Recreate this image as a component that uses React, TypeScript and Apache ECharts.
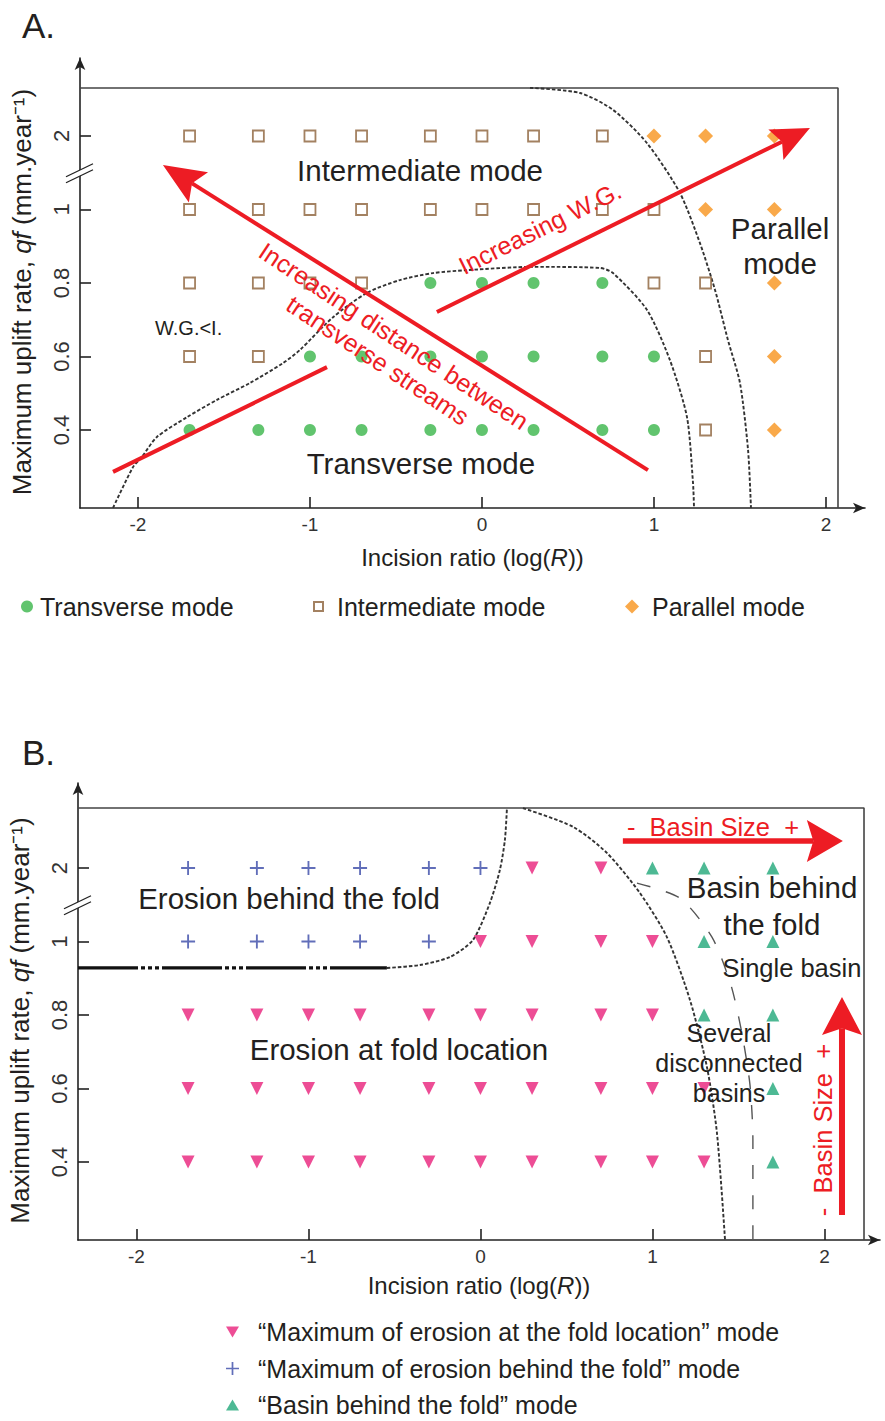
import React, { useEffect, useRef } from 'react';
import * as echarts from 'echarts';

const FONT = 'Arial, "Liberation Sans", Helvetica, sans-serif';
const TEXT = '#231f20';
const RED = '#ed1c24';
const AXIS = '#222222';

// ticks (qf = 2 is drawn at position 1.2 because of the axis break)
const xTicks = [-2, -1, 0, 1, 2];
const yTickPos = [0.4, 0.6, 0.8, 1.0, 1.2];
const yTickLabels = ['0.4', '0.6', '0.8', '1', '2'];
const yPos = (v: number) => (v === 2 ? 1.2 : v);

// ---------- Panel A : [log(R), qf]
const transverseA = [
  [-0.3, 0.8], [0, 0.8], [0.3, 0.8], [0.7, 0.8],
  [-1, 0.6], [-0.7, 0.6], [-0.3, 0.6], [0, 0.6], [0.3, 0.6], [0.7, 0.6], [1, 0.6],
  [-1.7, 0.4], [-1.3, 0.4], [-1, 0.4], [-0.7, 0.4], [-0.3, 0.4], [0, 0.4], [0.3, 0.4], [0.7, 0.4], [1, 0.4],
];
const intermediateA = [
  [-1.7, 2], [-1.3, 2], [-1, 2], [-0.7, 2], [-0.3, 2], [0, 2], [0.3, 2], [0.7, 2],
  [-1.7, 1], [-1.3, 1], [-1, 1], [-0.7, 1], [-0.3, 1], [0, 1], [0.3, 1], [0.7, 1], [1, 1],
  [-1.7, 0.8], [-1.3, 0.8], [-1, 0.8], [-0.7, 0.8], [1, 0.8], [1.3, 0.8],
  [-1.7, 0.6], [-1.3, 0.6], [1.3, 0.6],
  [1.3, 0.4],
];
const parallelA = [
  [1, 2], [1.3, 2], [1.7, 2], [1.3, 1], [1.7, 1], [1.7, 0.8], [1.7, 0.6], [1.7, 0.4],
];

// ---------- Panel B
const foldLocationB = [
  [0.3, 2], [0.7, 2],
  [0, 1], [0.3, 1], [0.7, 1], [1, 1],
  [-1.7, 0.8], [-1.3, 0.8], [-1, 0.8], [-0.7, 0.8], [-0.3, 0.8], [0, 0.8], [0.3, 0.8], [0.7, 0.8], [1, 0.8],
  [-1.7, 0.6], [-1.3, 0.6], [-1, 0.6], [-0.7, 0.6], [-0.3, 0.6], [0, 0.6], [0.3, 0.6], [0.7, 0.6], [1, 0.6], [1.3, 0.6],
  [-1.7, 0.4], [-1.3, 0.4], [-1, 0.4], [-0.7, 0.4], [-0.3, 0.4], [0, 0.4], [0.3, 0.4], [0.7, 0.4], [1, 0.4], [1.3, 0.4],
];
const behindFoldB = [
  [-1.7, 2], [-1.3, 2], [-1, 2], [-0.7, 2], [-0.3, 2], [0, 2],
  [-1.7, 1], [-1.3, 1], [-1, 1], [-0.7, 1], [-0.3, 1],
];
const basinB = [
  [1, 2], [1.3, 2], [1.7, 2], [1.3, 1], [1.7, 1], [1.3, 0.8], [1.7, 0.8], [1.7, 0.6], [1.7, 0.4],
];

// ---------- boundary curves [x, position on broken axis]
const curveA1 = [[-2.145, 0.188], [-2.029, 0.299], [-1.977, 0.327], [-1.89, 0.381], [-1.715, 0.435], [-1.541, 0.482], [-1.349, 0.528], [-1.157, 0.582], [-1.058, 0.618], [-0.866, 0.707], [-0.669, 0.773], [-0.477, 0.808], [-0.285, 0.827], [-0.087, 0.835], [0.297, 0.844], [0.686, 0.841], [0.762, 0.827], [0.959, 0.727], [1.093, 0.59], [1.192, 0.435], [1.227, 0.256], [1.233, 0.188]];
const curveA2 = [[0.279, 1.331], [0.57, 1.317], [0.762, 1.271], [0.959, 1.181], [1.151, 1.045], [1.267, 0.909], [1.355, 0.781], [1.43, 0.645], [1.5, 0.528], [1.547, 0.346], [1.564, 0.188]];
const curveB1Flat = [[-2.34, 0.928], [-0.544, 0.928]];
const curveB1 = [[-0.544, 0.928], [-0.352, 0.936], [-0.177, 0.958], [-0.044, 1.004], [0.055, 1.105], [0.113, 1.195], [0.142, 1.276], [0.154, 1.363]];
const curveB2 = [[0.247, 1.363], [0.538, 1.312], [0.735, 1.241], [0.927, 1.132], [1.084, 1.012], [1.218, 0.841], [1.317, 0.658], [1.375, 0.479], [1.422, 0.188]];
const curveB3 = [[0.91, 1.159], [1.16, 1.118], [1.346, 1.012], [1.456, 0.882], [1.52, 0.751], [1.567, 0.61], [1.584, 0.46], [1.584, 0.188]];

// frame (top + right edges)
const frameA = [[-2.337, 1.3306], [2.07, 1.3306], [2.07, 0.1878]];
const frameB = [[-2.34, 1.3633], [2.23, 1.3633], [2.23, 0.1878]];

const NAME_T = 'Transverse mode';
const NAME_I = 'Intermediate mode';
const NAME_P = 'Parallel mode';
const NAME_F = '\u201cMaximum of erosion at the fold location\u201d mode';
const NAME_BH = '\u201cMaximum of erosion behind the fold\u201d mode';
const NAME_BS = '\u201cBasin behind the fold\u201d mode';

const PLUS = 'path://M5.2,0H6.8V5.2H12V6.8H6.8V12H5.2V6.8H0V5.2H5.2Z';
const TRI_DOWN = 'path://M0,0L12,0L6,10Z';
const TRI_UP = 'path://M6,0L12,10L0,10Z';

function xAxisCfg(gi: number, min: number, max: number, nameGap: number) {
  return {
    type: 'value', gridIndex: gi, min, max,
    name: '{n|Incision ratio (log(}{i|R}{n|))}',
    nameLocation: 'middle', nameGap, nameMoveOverlap: false,
    nameTextStyle: {
      rich: {
        n: { fontSize: 24, fontFamily: FONT, color: TEXT },
        i: { fontSize: 24, fontFamily: FONT, color: TEXT, fontStyle: 'italic' },
      },
    },
    axisLine: { show: true, onZero: false, symbol: ['none', 'arrow'], symbolSize: [8, 12], lineStyle: { color: AXIS, width: 1.6 } },
    axisTick: { show: true, inside: true, length: 11, customValues: xTicks, lineStyle: { color: AXIS, width: 1.6 } },
    axisLabel: { show: true, customValues: xTicks, margin: 7, fontSize: 19, color: '#333', fontFamily: FONT },
    splitLine: { show: false },
  };
}

function yAxisCfg(gi: number, min: number, max: number) {
  return {
    type: 'value', gridIndex: gi, min, max,
    name: '{a|Maximum uplift rate, }{i|qf}{a| (mm.year\u207b\u00b9)}',
    nameLocation: 'middle', nameGap: 45, nameRotate: 90, nameMoveOverlap: false,
    nameTextStyle: {
      padding: [0, 18, 0, 0],
      rich: {
        a: { fontSize: 26, fontFamily: FONT, color: TEXT },
        i: { fontSize: 26, fontFamily: FONT, color: TEXT, fontStyle: 'italic' },
      },
    },
    axisLine: { show: true, onZero: false, symbol: ['none', 'arrow'], symbolSize: [8, 12], lineStyle: { color: AXIS, width: 1.6 } },
    axisTick: { show: true, inside: true, length: 11, customValues: yTickPos, lineStyle: { color: AXIS, width: 1.6 } },
    axisLabel: {
      show: true, customValues: yTickPos, rotate: 90, margin: 8, fontSize: 22, color: '#333', fontFamily: FONT,
      formatter: (v: number) => {
        const i = yTickPos.findIndex((p) => Math.abs(p - v) < 1e-6);
        return i >= 0 ? yTickLabels[i] : '';
      },
    },
    splitLine: { show: false },
  };
}

const sc = (name: string, data: number[][], gi: number, symbol: string, size: number, itemStyle: any) => ({
  type: 'scatter', name, xAxisIndex: gi, yAxisIndex: gi, symbol, symbolSize: size, itemStyle, z: 6,
  data: data.map(([x, y]) => [x, yPos(y)]),
});
const ln = (name: string, data: number[][], gi: number, lineStyle: any, smooth: number | boolean = 0.25) => ({
  type: 'line', name, xAxisIndex: gi, yAxisIndex: gi, data, showSymbol: false, symbol: 'none', smooth, lineStyle, silent: true, z: 3,
});

function buildOption() {
  const dash = { color: '#333333', width: 1.9, type: [3.5, 2] };
  const legendText = { fontSize: 25, fontFamily: FONT, color: TEXT };
  return {
    animation: false,
    backgroundColor: '#ffffff',
    grid: [
      { left: 80, top: 58, width: 785, height: 450, outerBoundsMode: 'none', containLabel: false },
      { left: 78, top: 783, width: 802, height: 457, outerBoundsMode: 'none', containLabel: false },
    ],
    xAxis: [xAxisCfg(0, -2.337, 2.227, 37), xAxisCfg(1, -2.34, 2.323, 33)],
    yAxis: [yAxisCfg(0, 0.1878, 1.4122), yAxisCfg(1, 0.1878, 1.4313)],
    legend: [
      { left: 21, top: 594, padding: 0, data: [NAME_T], itemWidth: 12, itemHeight: 12, selectedMode: false, textStyle: { ...legendText, padding: [0, 0, 0, 2] } },
      { left: 313, top: 594, padding: 0, data: [NAME_I], itemWidth: 9, itemHeight: 9, selectedMode: false, textStyle: { ...legendText, padding: [0, 0, 0, 9] } },
      { left: 625, top: 594, padding: 0, data: [NAME_P], itemWidth: 14, itemHeight: 14, selectedMode: false, textStyle: { ...legendText, padding: [0, 0, 0, 8] } },
      { left: 226, top: 1319, padding: 0, height: 102, orient: 'vertical', itemGap: 10.5, data: [NAME_F, NAME_BH, NAME_BS], itemWidth: 13, itemHeight: 13, selectedMode: false, textStyle: { ...legendText, lineHeight: 26, padding: [0, 0, 0, 14] } },
    ],
    series: [
      ln('frameA', frameA, 0, { color: '#444', width: 1.6 }, false),
      ln('curveA1', curveA1, 0, dash),
      ln('curveA2', curveA2, 0, dash),
      sc(NAME_T, transverseA, 0, 'circle', 12, { color: '#3ab54a' }),
      sc(NAME_I, intermediateA, 0, 'rect', 11, { color: '#ffffff', borderColor: '#8c6239', borderWidth: 1.8 }),
      sc(NAME_P, parallelA, 0, 'diamond', 15, { color: '#f7941d' }),

      ln('frameB', frameB, 1, { color: '#444', width: 1.6 }, false),
      ln('curveB1Flat', curveB1Flat, 1, { color: '#111', width: 3.2, type: [60, 3, 4, 3, 4, 3, 4, 3] }, false),
      ln('curveB1', curveB1, 1, dash),
      ln('curveB2', curveB2, 1, dash),
      ln('curveB3', curveB3, 1, { color: '#555', width: 1.4, type: [14, 16] }),
      sc(NAME_F, foldLocationB, 1, TRI_DOWN, 13, { color: '#e8207a' }),
      sc(NAME_BH, behindFoldB, 1, PLUS, 14, { color: '#3a4aa8' }),
      sc(NAME_BS, basinB, 1, TRI_UP, 13, { color: '#21a879' }),
    ],
  };
}

// annotation layout (data coordinates of each panel)
const textsA = [
  { t: 'Intermediate mode', x: -0.36, y: 1.105, size: 29.5, color: TEXT, rot: 0, lh: 32 },
  { t: 'Parallel\nmode', x: 1.733, y: 0.9, size: 29.5, color: TEXT, rot: 0, lh: 35 },
  { t: 'Transverse mode', x: -0.355, y: 0.31, size: 29.5, color: TEXT, rot: 0, lh: 32 },
  { t: 'Increasing W.G.', x: 0.337, y: 0.95, size: 25, color: RED, rot: 26.3, lh: 28 },
  { t: 'Increasing distance between', x: -0.512, y: 0.656, size: 25, color: RED, rot: -33.5, lh: 28 },
  { t: 'transverse streams', x: -0.605, y: 0.59, size: 25, color: RED, rot: -33.5, lh: 28 },
];
const textsB = [
  { t: 'Erosion behind the fold', x: -1.113, y: 1.116, size: 29.5, color: TEXT, rot: 0, lh: 32 },
  { t: 'Erosion at fold location', x: -0.474, y: 0.705, size: 29.5, color: TEXT, rot: 0, lh: 32 },
  { t: 'Basin behind\nthe fold', x: 1.695, y: 1.097, size: 29.5, color: TEXT, rot: 0, lh: 37 },
  { t: 'Single basin', x: 1.811, y: 0.928, size: 25.5, color: TEXT, rot: 0, lh: 28 },
  { t: 'Several\ndisconnected\nbasins', x: 1.445, y: 0.669, size: 25, color: TEXT, rot: 0, lh: 30 },
  { t: '-  Basin Size  +', x: 1.352, y: 1.312, size: 25.5, color: RED, rot: 0, lh: 28 },
  { t: '-  Basin Size  +', x: 1.991, y: 0.487, size: 25.5, color: RED, rot: 90, lh: 28 },
];
const arrowsA = [
  { from: [0.965, 0.291], to: [-1.855, 1.121], head: true, w: 4, L: 42, W: 18 },
  { from: [-2.145, 0.286], to: [-0.901, 0.571], head: false, w: 4, L: 0, W: 0 },
  { from: [-0.262, 0.721], to: [1.907, 1.222], head: true, w: 4, L: 38, W: 17 },
];
const arrowsB = [
  { from: [0.828, 1.2735], to: [2.107, 1.2735], head: true, w: 5.5, L: 36, W: 21 },
  { from: [2.102, 0.256], to: [2.102, 0.849], head: true, w: 6, L: 38, W: 20 },
];
const breakPos = 1.1;

export default function App() {
  const ref = useRef<HTMLDivElement>(null);
  useEffect(() => {
    document.body.style.margin = '0';
    const chart = echarts.init(ref.current as HTMLDivElement, null, { renderer: 'svg' });
    chart.setOption(buildOption() as any);
    const P = (g: number, p: number[]) => chart.convertToPixel({ gridIndex: g } as any, p) as unknown as number[];
    const g: any[] = [];
    g.push({ type: 'text', x: 22, y: 25, style: { text: 'A.', fontSize: 35, fontFamily: FONT, fill: TEXT, verticalAlign: 'middle' } });
    g.push({ type: 'text', x: 22, y: 752, style: { text: 'B.', fontSize: 35, fontFamily: FONT, fill: TEXT, verticalAlign: 'middle' } });
    const addTexts = (gi: number, list: any[]) => {
      list.forEach((a) => {
        const [px, py] = P(gi, [a.x, a.y]);
        g.push({
          type: 'text', x: px, y: py, rotation: (a.rot * Math.PI) / 180, z: 20,
          style: { text: a.t, fontSize: a.size, fontFamily: FONT, fill: a.color, align: 'center', verticalAlign: 'middle', lineHeight: a.lh },
        });
      });
    };
    addTexts(0, textsA);
    addTexts(1, textsB);
    const wg = P(0, [-1.901, 0.678]);
    g.push({ type: 'text', x: wg[0], y: wg[1], z: 20, style: { text: 'W.G.<I.', fontSize: 20, fontFamily: FONT, fill: TEXT, verticalAlign: 'middle' } });

    const addArrows = (gi: number, list: any[]) => {
      list.forEach((a) => {
        const [x1, y1] = P(gi, a.from);
        const [x2, y2] = P(gi, a.to);
        const len = Math.hypot(x2 - x1, y2 - y1);
        const ux = (x2 - x1) / len, uy = (y2 - y1) / len;
        const nx = -uy, ny = ux;
        const notch = a.L * 0.18;
        const ex = a.head ? x2 - (a.L - notch) * ux : x2;
        const ey = a.head ? y2 - (a.L - notch) * uy : y2;
        g.push({ type: 'line', z: 15, shape: { x1, y1, x2: ex, y2: ey }, style: { stroke: RED, lineWidth: a.w } });
        if (a.head) {
          g.push({
            type: 'polygon', z: 15,
            shape: { points: [[x2, y2], [x2 - a.L * ux + a.W * nx, y2 - a.L * uy + a.W * ny], [x2 - (a.L - notch) * ux, y2 - (a.L - notch) * uy], [x2 - a.L * ux - a.W * nx, y2 - a.L * uy - a.W * ny]] },
            style: { fill: RED },
          });
        }
      });
    };
    addArrows(0, arrowsA);
    addArrows(1, arrowsB);

    [0, 1].forEach((gi) => {
      const xmin = gi === 0 ? -2.337 : -2.34;
      const [cx, cy] = P(gi, [xmin, breakPos]);
      g.push({ type: 'polygon', z: 12, shape: { points: [[cx - 14, cy + 4], [cx + 13, cy - 9], [cx + 13, cy - 3], [cx - 14, cy + 10]] }, style: { fill: '#fff' } });
      g.push({ type: 'line', z: 13, shape: { x1: cx - 14, y1: cy + 4, x2: cx + 13, y2: cy - 9 }, style: { stroke: AXIS, lineWidth: 1.3 } });
      g.push({ type: 'line', z: 13, shape: { x1: cx - 14, y1: cy + 10, x2: cx + 13, y2: cy - 3 }, style: { stroke: AXIS, lineWidth: 1.3 } });
    });

    chart.setOption({ graphic: g } as any);
    return () => chart.dispose();
  }, []);
  return <div ref={ref} style={{ width: 885, height: 1421 }} />;
}
